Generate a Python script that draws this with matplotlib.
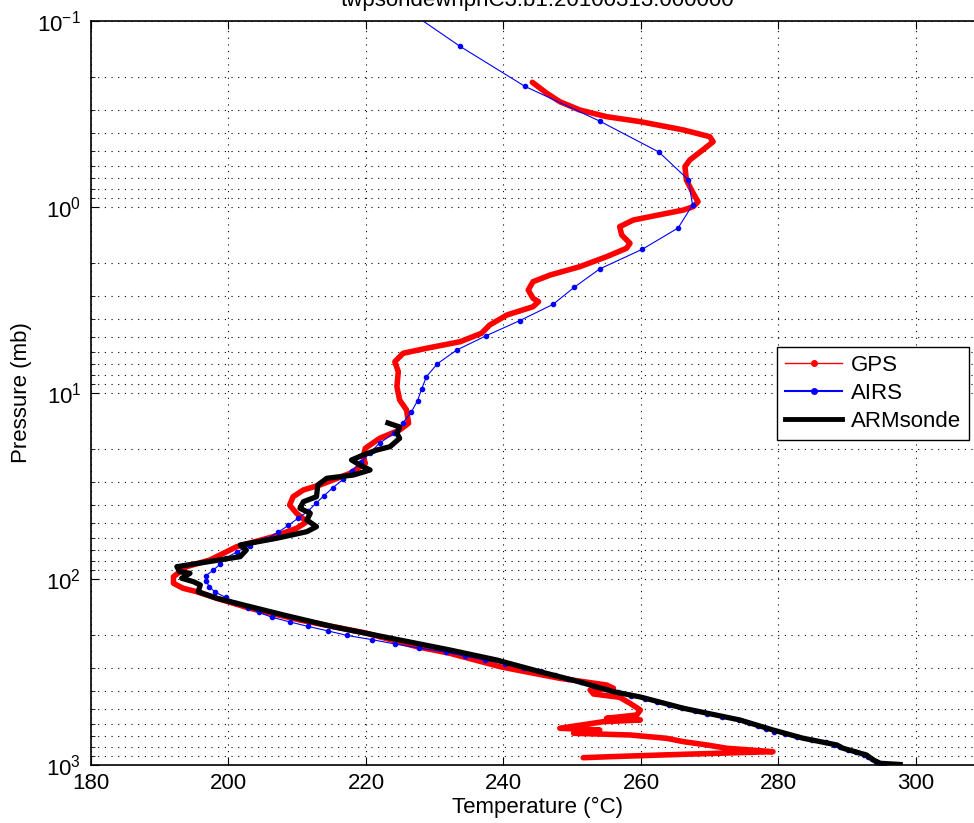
import matplotlib
matplotlib.use('Agg')
import matplotlib.pyplot as plt
from matplotlib.lines import Line2D
from matplotlib.ticker import LogLocator, NullFormatter

plt.rcParams['font.family'] = ['Liberation Sans', 'DejaVu Sans']
plt.rcParams['mathtext.fontset'] = 'custom'
plt.rcParams['mathtext.rm'] = 'Liberation Sans'
plt.rcParams['mathtext.it'] = 'Liberation Sans:italic'

title = 'twpsondewnpnC3.b1.20100313.000000'

# AIRS support pressure levels (mb) and temperatures
airs_p = [0.0769, 0.137, 0.2244, 0.3454, 0.5064, 0.714, 0.9753, 1.2972, 1.6872, 2.1526,
          2.7009, 3.3398, 4.077, 4.9204, 5.8776, 6.9567, 8.1655, 9.5119, 11.0038, 12.6492,
          14.4559, 16.4318, 18.5847, 20.9224, 23.4526, 26.1829, 29.121, 32.2744, 35.6505, 39.2566,
          43.1001, 47.1882, 51.5278, 56.126, 60.9895, 66.1253, 71.5398, 77.2396, 83.231, 89.5204,
          96.1138, 103.017, 110.237, 117.777, 125.646, 133.846, 142.385, 151.266, 160.496, 170.078,
          180.018, 190.32, 200.989, 212.028, 223.441, 235.234, 247.408, 259.969, 272.919, 286.262,
          300.0, 314.137, 328.675, 343.618, 358.966, 374.724, 390.893, 407.474, 424.47, 441.882,
          459.712, 477.961, 496.63, 515.72, 535.232, 555.167, 575.525, 596.306, 617.511, 639.14,
          661.192, 683.667, 706.565, 729.886, 753.628, 777.79, 802.371, 827.371, 852.788, 878.62,
          904.866, 931.524, 958.591, 986.067, 1013.95]
airs_t = [223.8, 233.7, 243.1, 254.0, 262.6, 266.9, 267.5, 265.4, 260.2, 254.0,
          250.3, 247.2, 242.4, 237.5, 233.2, 230.4, 228.8, 228.1, 227.5, 226.6,
          225.4, 224.1, 222.0, 220.6, 219.3, 218.0, 216.7, 215.2, 213.9, 212.7,
          211.6, 210.1, 208.7, 207.2, 205.5, 203.1, 201.2, 199.6, 198.8, 197.8,
          196.7, 196.8, 197.2, 198.1, 199.6, 201.1, 202.9, 204.4, 206.3, 208.9,
          211.6, 214.5, 217.2, 220.9, 224.2, 227.7, 231.6, 234.4, 237.3, 240.2,
          243.0, 245.5, 247.5, 249.4, 251.3, 253.2, 254.9, 256.7, 258.5, 260.6,
          262.3, 264.1, 265.9, 267.9, 269.6, 271.8, 274.3, 275.7, 277.0, 278.2,
          279.3, 280.9, 282.7, 284.9, 286.9, 288.1, 289.0, 290.1, 291.3, 292.4,
          293.0, 293.6, 294.2, 294.8, 295.3]

# GPS retrieval profile
gps_p = [0.2136, 0.2446, 0.2716, 0.3010, 0.3269, 0.3477, 0.3855, 0.4188, 0.4456, 0.4835,
         0.5588, 0.6071, 0.7157, 0.8437, 0.9365, 0.9963, 1.038, 1.118, 1.175, 1.276,
         1.414, 1.567, 1.667, 1.850, 2.094, 2.321, 2.521, 2.794, 3.097, 3.229,
         3.436, 3.808, 4.310, 4.775, 5.300, 5.750, 6.118, 6.787, 7.685, 9.250,
         10.91, 12.34, 14.55, 15.81, 17.52, 19.83, 22.00, 23.88, 27.03, 31.23,
         33.22, 36.11, 40.02, 44.36, 49.19, 53.40, 59.25, 67.04, 79.04, 85.89,
         97.19, 105.5, 112.2, 117.1, 127.0, 143.7, 166.2, 195.8, 231.2, 250.9,
         296.1, 308.4, 342.0, 371.5, 386.9, 395.2, 415.3, 432.5, 465.9, 506.1,
         538.5, 561.0, 573.1, 585.3, 634.9, 648.4, 675.4, 689.7, 718.5, 749.4,
         780.6, 813.2, 848.2, 876.0, 902.5, 913.8]
gps_t = [244.2, 246.3, 248.2, 251.1, 255.0, 259.9, 266.2, 270.0, 270.5, 269.3,
         267.1, 266.4, 266.6, 267.6, 268.3, 267.6, 266.2, 261.8, 258.9, 256.9,
         257.2, 258.4, 257.9, 255.0, 251.1, 246.8, 244.3, 243.6, 244.3, 245.1,
         244.3, 240.5, 238.0, 236.8, 233.7, 228.8, 225.4, 224.2, 224.7, 224.5,
         224.9, 225.9, 226.2, 224.9, 222.0, 219.9, 219.6, 219.9, 217.7, 213.3,
         210.9, 209.4, 208.9, 209.9, 211.4, 209.9, 206.5, 201.2, 197.3, 193.9,
         192.0, 192.0, 193.4, 195.4, 198.3, 203.1, 210.4, 220.1, 227.4, 232.2,
         239.5, 241.9, 248.2, 255.0, 256.0, 252.6, 253.1, 256.9, 258.4, 259.9,
         259.4, 255.0, 259.9, 254.5, 248.2, 254.0, 250.2, 258.4, 263.7, 266.2,
         269.6, 272.5, 279.2, 266.2, 255.5, 251.6]

# ARM radiosonde profile
sonde_p = [14.50, 15.23, 16.47, 17.52, 19.44, 20.25, 21.54, 22.92, 24.38, 25.94,
           27.60, 28.75, 31.23, 36.11, 38.41, 41.69, 44.36, 48.17, 52.34, 55.68,
           60.42, 65.65, 69.85, 75.87, 85.89, 91.37, 93.20, 99.13, 103.4, 107.7,
           117.1, 127.0, 138.0, 156.1, 180.5, 204.3, 240.8, 272.6, 315.1, 353.6,
           403.6, 430.9, 495.8, 573.1, 648.4, 718.5, 780.6, 813.2, 883.6, 940.0,
           979.3, 993.8]
sonde_t = [223.2, 224.9, 224.5, 224.9, 223.5, 221.6, 219.6, 217.9, 219.1, 220.6,
           218.2, 214.3, 213.0, 212.8, 210.9, 210.4, 211.9, 211.4, 212.8, 211.4,
           207.0, 201.7, 202.6, 201.7, 192.5, 192.9, 194.4, 193.2, 194.9, 195.9,
           195.6, 198.3, 202.2, 208.0, 215.2, 222.5, 232.2, 239.0, 245.3, 250.6,
           256.0, 259.9, 266.2, 274.4, 279.2, 283.6, 288.5, 289.4, 292.8, 293.8,
           294.8, 297.7]

fig = plt.figure(figsize=(9.74, 8.23), dpi=100)
ax = fig.add_axes([0.0934, 0.0705, 0.9176, 0.9040])

ax.plot(gps_t, gps_p, color='red', lw=4, solid_capstyle='round', solid_joinstyle='round')
ax.plot(airs_t, airs_p, color='blue', lw=0.8, marker='.', markersize=6)
ax.plot(sonde_t, sonde_p, color='black', lw=3.8, solid_joinstyle='round')

ax.set_yscale('log')
ax.set_ylim(1000, 0.1)
ax.set_xlim(180, 310)
ax.set_xticks([180, 200, 220, 240, 260, 280, 300])
ax.yaxis.set_minor_locator(LogLocator(base=10, subs=range(2, 10)))
ax.yaxis.set_minor_formatter(NullFormatter())

ax.grid(True, which='major', color='black', linestyle=(0, (1, 5)), lw=0.8)
ax.grid(True, which='minor', axis='y', color='black', linestyle=(0, (1, 5)), lw=0.8)
ax.tick_params(which='both', direction='in', top=True, right=True, labelsize=16)
ax.tick_params(which='major', length=6, width=0.8)
ax.tick_params(axis='x', pad=6)
ax.tick_params(axis='y', pad=7)
ax.tick_params(which='minor', length=3, width=0.6)
for s in ax.spines.values():
    s.set_linewidth(1.2)

ax.set_xlabel('Temperature (°C)', fontsize=16, labelpad=2)
ax.set_ylabel('Pressure (mb)', fontsize=16, labelpad=4)
ax.text(0.5, 1 + 15 / 744, title, transform=ax.transAxes, ha='center', va='baseline',
        fontsize=16)

handles = [Line2D([], [], color='red', lw=1, marker='.', markersize=8),
           Line2D([], [], color='blue', lw=1.5, marker='.', markersize=8),
           Line2D([], [], color='black', lw=3.5)]
leg = ax.legend(handles, ['GPS', 'AIRS', 'ARMsonde'], loc='upper left',
                bbox_to_anchor=(0.7675, 0.5618), borderaxespad=0, fontsize=16,
                handlelength=2.6, handletextpad=0.4, labelspacing=0.32,
                borderpad=0.35, fancybox=False, framealpha=1, edgecolor='black')
leg.get_frame().set_linewidth(1.0)

fig.savefig('out.png', dpi=100)
